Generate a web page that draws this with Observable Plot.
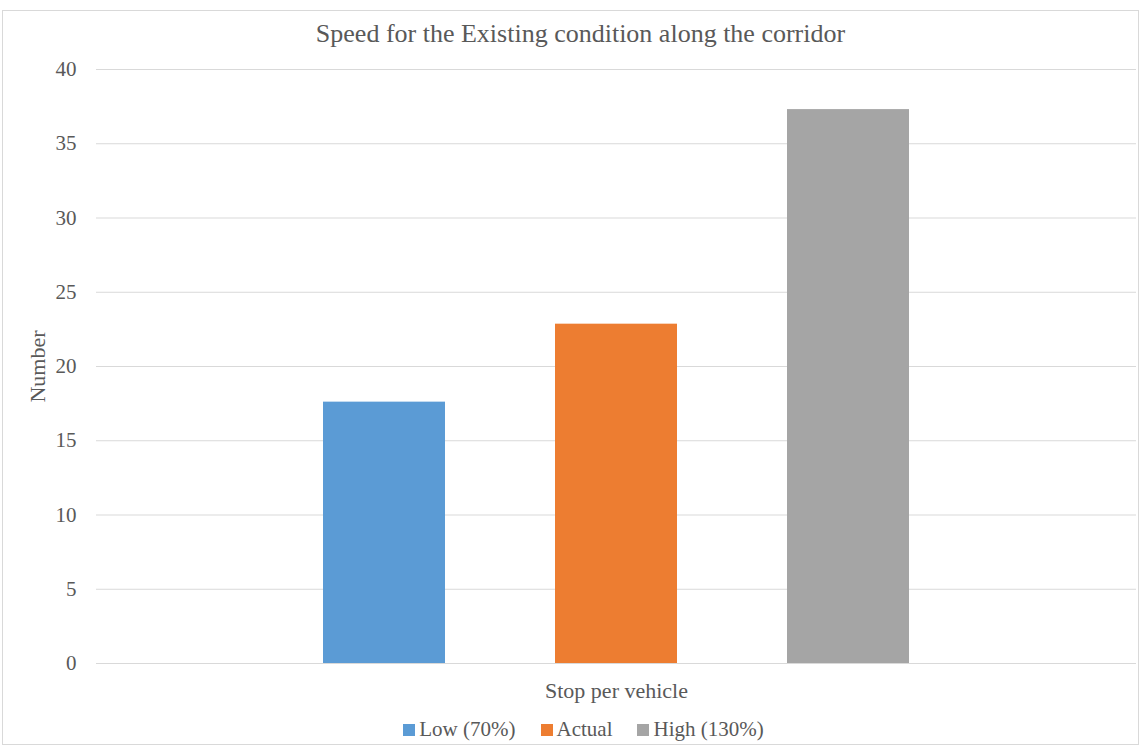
<!DOCTYPE html>
<html>
<head>
<meta charset="utf-8">
<script src="https://cdn.jsdelivr.net/npm/d3@7"></script>
<script src="https://cdn.jsdelivr.net/npm/@observablehq/plot@0.6"></script>
<style>
  html, body { margin: 0; padding: 0; background: #fff; }
  #wrap { position: relative; width: 1143px; height: 749px; font-family: "Liberation Serif", "Times New Roman", serif; color: #595959; }
  #frame { position: absolute; left: 2px; top: 10px; width: 1137px; height: 735px; border: 1px solid #d9d9d9; box-sizing: border-box; pointer-events: none; }
  #legend { position: absolute; left: 0; width: 1143px; top: 717px; display: flex; justify-content: center; gap: 25px; font-size: 21px; padding-left: 24px; box-sizing: border-box; }
  #legend span.item { display: flex; align-items: center; }
  #legend span.sw { display: inline-block; width: 12px; height: 12px; margin-right: 4px; }
  svg { position: absolute; left: 0; top: 0; }
</style>
</head>
<body>
<div id="wrap"><div id="frame"></div><div id="legend"></div></div>
<script>
const title = "Speed for the Existing condition along the corridor";
const xLabel = "Stop per vehicle";
const yLabel = "Number";
const series = ["Low (70%)", "Actual", "High (130%)"];
const values = [17.6, 22.85, 37.3];
const colors = ["#5b9bd5", "#ed7d31", "#a5a5a5"];
const yTicks = [0, 5, 10, 15, 20, 25, 30, 35, 40];

const data = series.map((s, i) => ({series: s, value: values[i]}));

const chart = Plot.plot({
  width: 1143,
  height: 749,
  marginLeft: 96,
  marginRight: 7,
  marginTop: 69,
  marginBottom: 86,
  style: {fontFamily: "Liberation Serif, Times New Roman, serif", color: "#595959", background: "transparent"},
  x: {domain: series, axis: null, paddingInner: 0.472, paddingOuter: 0.968},
  y: {domain: [0, 40], ticks: yTicks, label: null},
  color: {domain: series, range: colors},
  marks: [
    Plot.gridY(yTicks, {stroke: "#d9d9d9", strokeOpacity: 1, strokeWidth: 1}),
    Plot.barY(data, {x: "series", y: "value", fill: "series"}),
    Plot.axisY(yTicks, {tickSize: 0, tickPadding: 20, fontSize: 21, fill: "#595959"}),
    Plot.text([title], {frameAnchor: "top", lineAnchor: "middle", dy: -36, dx: -36, fontSize: 26, fill: "#595959"}),
    Plot.text([xLabel], {frameAnchor: "bottom", lineAnchor: "middle", dy: 27, dx: 0, fontSize: 22, fill: "#595959"}),
    Plot.text([yLabel], {frameAnchor: "left", textAnchor: "middle", lineAnchor: "middle", dx: -59, dy: 0, rotate: -90, fontSize: 22, fill: "#595959"})
  ]
});
const wrap = document.getElementById("wrap");
wrap.insertBefore(chart, wrap.firstChild);

const legend = document.getElementById("legend");
series.forEach((s, i) => {
  const item = document.createElement("span");
  item.className = "item";
  const sw = document.createElement("span");
  sw.className = "sw";
  sw.style.background = colors[i];
  item.appendChild(sw);
  item.appendChild(document.createTextNode(s));
  legend.appendChild(item);
});
</script>
</body>
</html>
